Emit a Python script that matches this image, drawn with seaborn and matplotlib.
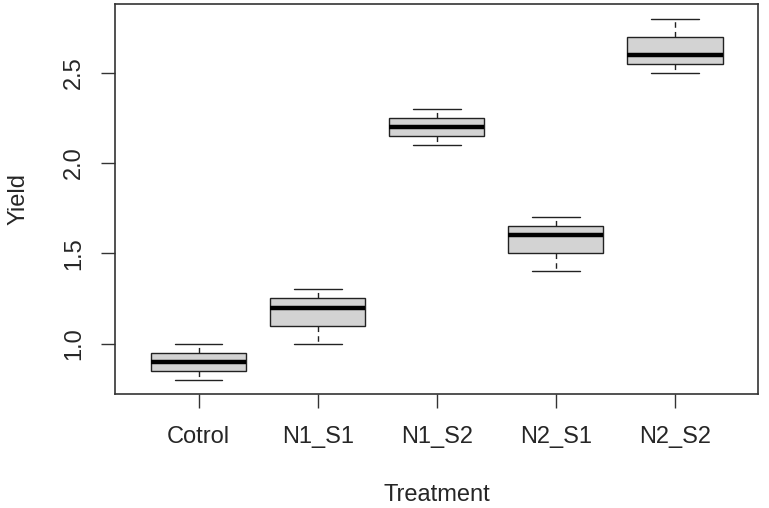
import numpy as np
import matplotlib.pyplot as plt
import seaborn as sns
import pandas as pd

treatments = ['Cotrol', 'N1_S1', 'N1_S2', 'N2_S1', 'N2_S2']
cotrol = [0.80, 0.85, 0.90, 0.95, 1.00]
n1_s1 = [1.00, 1.10, 1.20, 1.25, 1.30]
n1_s2 = [2.10, 2.15, 2.20, 2.25, 2.30]
n2_s1 = [1.40, 1.50, 1.60, 1.65, 1.70]
n2_s2 = [2.50, 2.55, 2.60, 2.70, 2.80]
y_ticks = [1.0, 1.5, 2.0, 2.5]

values = [cotrol, n1_s1, n1_s2, n2_s1, n2_s2]
df = pd.DataFrame({
    'Treatment': np.repeat(treatments, [len(v) for v in values]),
    'Yield': np.concatenate(values),
})

sns.set_style('white')
plt.rcParams['font.family'] = ['Liberation Sans', 'DejaVu Sans']

fig, ax = plt.subplots(figsize=(7.69, 5.08), dpi=100)
plt.subplots_adjust(left=0.150, right=0.986, top=0.992, bottom=0.224)

sns.boxplot(
    data=df, x='Treatment', y='Yield', order=treatments, ax=ax,
    color='#d3d3d3', width=0.8, whis=1.5, saturation=1, fill=True,
    boxprops=dict(facecolor='#d3d3d3', edgecolor='#222222', linewidth=1.0),
    whiskerprops=dict(color='#222222', linewidth=1.0, linestyle=(0, (4, 3))),
    capprops=dict(color='#222222', linewidth=1.0),
    medianprops=dict(color='black', linewidth=3.2),
    linecolor='#222222',
)

ax.set_xlim(-0.7, 4.7)
ax.set_ylim(0.72, 2.88)
ax.set_yticks(y_ticks)
ax.set_yticklabels([f'{t:.1f}' for t in y_ticks], rotation=90, va='center')
ax.tick_params(axis='both', which='both', direction='out', length=10, width=1.0,
               color='#333333', labelsize=17, left=True, bottom=True)
ax.tick_params(axis='x', pad=13)
ax.tick_params(axis='y', pad=12)
for s in ax.spines.values():
    s.set_visible(True)
    s.set_color('#333333')
    s.set_linewidth(1.2)

ax.set_xlabel('Treatment', fontsize=17, labelpad=26)
ax.set_ylabel('Yield', fontsize=17, labelpad=24)

plt.savefig('out.png', dpi=100)
